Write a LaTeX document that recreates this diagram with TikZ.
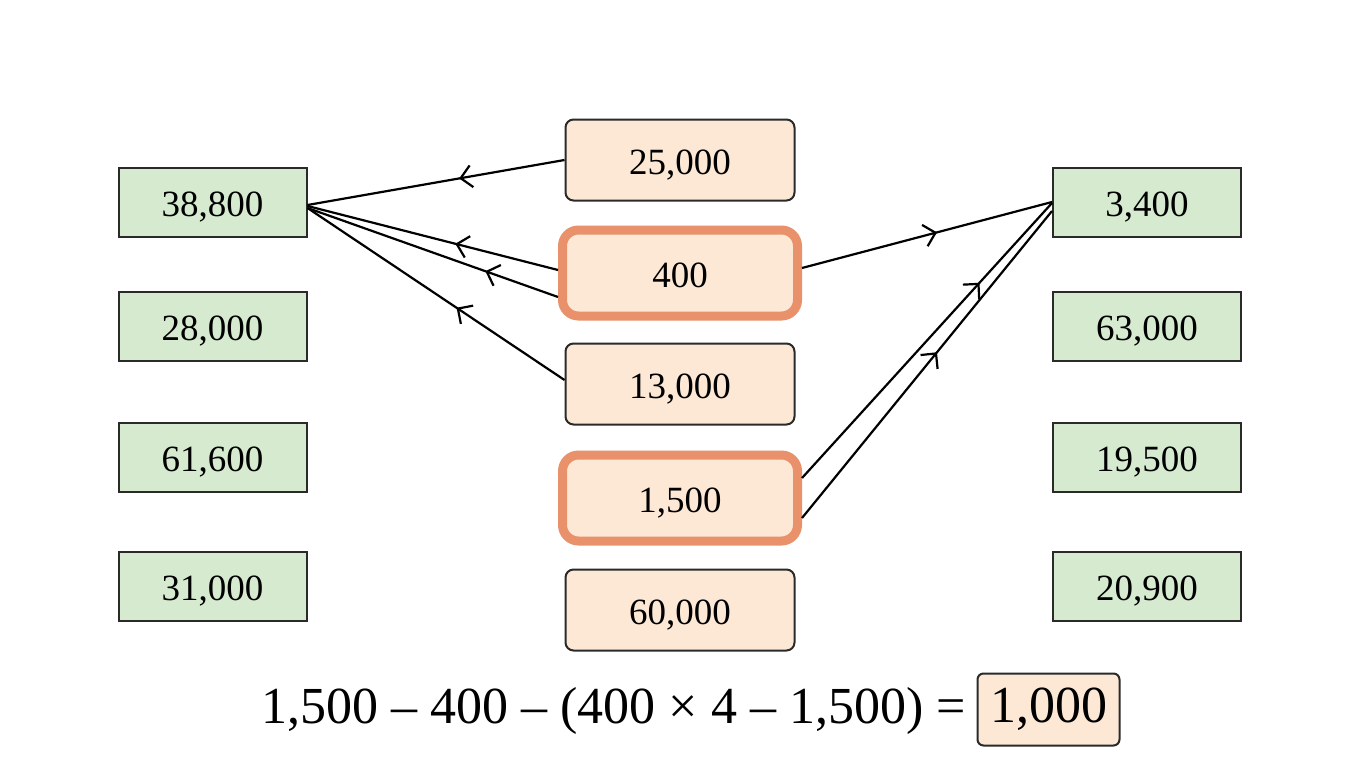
\documentclass[tikz,border=0pt]{standalone}
\usepackage{fontspec}
\setmainfont{Liberation Serif}
\usetikzlibrary{arrows.meta,decorations.markings}
\definecolor{gfill}{HTML}{D6EAD0}
\definecolor{pfill}{HTML}{FCE8D4}
\definecolor{oline}{HTML}{E8916A}
\definecolor{dline}{HTML}{2A2A2A}
\tikzset{
  numfont/.style={font=\fontsize{37}{40}\selectfont},
  gbox/.style={draw=dline, line width=2pt, fill=gfill, minimum width=188pt, minimum height=69pt, inner sep=0pt, numfont, text depth=0pt, text height=29pt},
  pbox/.style={draw=dline, line width=2pt, fill=pfill, rounded corners=8pt, minimum width=229pt, minimum height=81pt, inner sep=0pt, numfont, text depth=0pt, text height=29pt},
  hbox/.style={draw=oline, line width=9pt, fill=pfill, rounded corners=16pt, minimum width=235pt, minimum height=86pt, inner sep=0pt, numfont, text depth=0pt, text height=29pt},
  resbox/.style={draw=dline, line width=2pt, fill=pfill, rounded corners=6pt, minimum width=142pt, minimum height=72pt, inner sep=0pt, font=\fontsize{52}{60}\selectfont},
  conn/.style={line width=2.2pt, draw=black},
  midarr/.style={postaction={decorate}, decoration={markings, mark=at position #1 with {\arrow{Straight Barb[length=11pt,width=22pt,line width=2.2pt]}}}}
}
\begin{document}
\begin{tikzpicture}[x=1pt,y=-1pt]
\path[use as bounding box, fill=white] (0,0) rectangle (1356,768);
% left column
\node[gbox] (l1) at (212.5,202) {38,800};
\node[gbox] (l2) at (212.5,326) {28,000};
\node[gbox] (l3) at (212.5,457) {61,600};
\node[gbox] (l4) at (212.5,586) {31,000};
% right column
\node[gbox] (r1) at (1147,202) {3,400};
\node[gbox] (r2) at (1147,326) {63,000};
\node[gbox] (r3) at (1147,457) {19,500};
\node[gbox] (r4) at (1147,586) {20,900};
% middle column
\node[pbox] (m25) at (680,160) {25,000};
\node[hbox] (m400) at (680,273) {400};
\node[pbox] (m13) at (680,384) {13,000};
\node[hbox] (m15) at (680,498) {1,500};
\node[pbox] (m60) at (680,610) {60,000};
% connectors to left
\draw[conn, midarr=0.41] (m25.west) -- ([yshift=-3pt]l1.east);
\draw[conn, midarr=0.41] ([yshift=3pt]m400.west) -- ([yshift=-4pt]l1.east);
\draw[conn, midarr=0.29] ([yshift=-24pt]m400.west) -- ([yshift=-6pt]l1.east);
\draw[conn, midarr=0.42] ([yshift=4pt]m13.west) -- ([yshift=-6pt]l1.east);
% connectors to right
\draw[conn, midarr=0.54] ([yshift=5pt]m400.east) -- (r1.west);
\draw[conn, midarr=0.71] ([yshift=20pt]m15.east) -- ([yshift=-1pt]r1.west);
\draw[conn, midarr=0.54] ([yshift=-20pt]m15.east) -- ([yshift=-9pt]r1.west);
% equation
\node[font=\fontsize{52}{60}\selectfont, inner sep=0pt, anchor=east] (eq) at (966,711) {1,500 – 400 – (400 × 4 – 1,500) =};
\node[resbox] (res) at (1048.5,709.5) {1,000};
\end{tikzpicture}
\end{document}
